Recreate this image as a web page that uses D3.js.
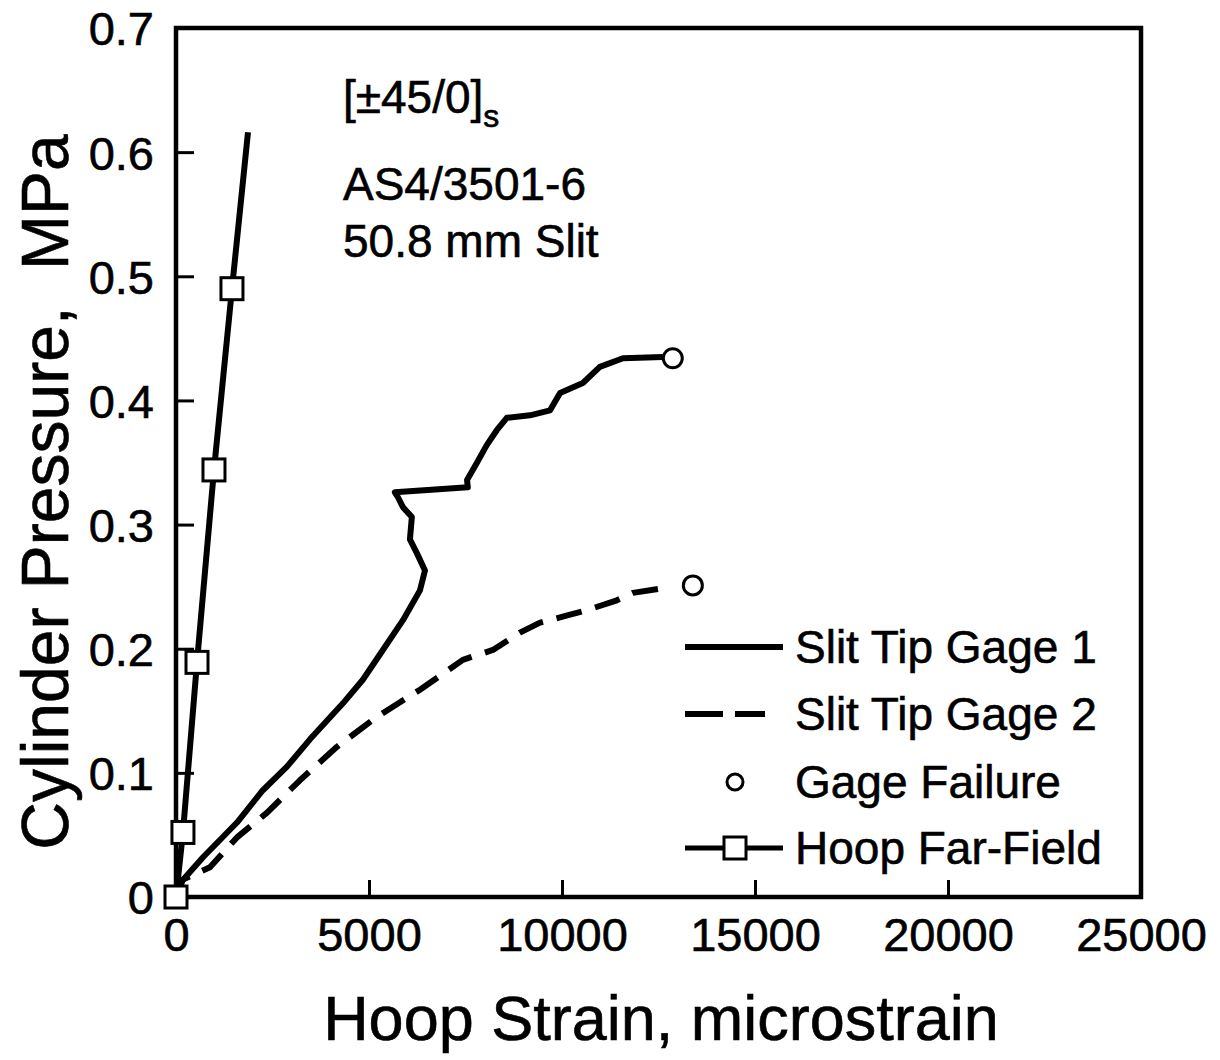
<!DOCTYPE html>
<html><head><meta charset="utf-8">
<script src="https://cdn.jsdelivr.net/npm/d3@7"></script>
<style>body{margin:0;background:#fff}svg{display:block;font-family:"Liberation Sans",Arial,sans-serif}</style>
</head><body><svg id="c" width="1220" height="1060"></svg>
<script>
const xTicks = [0, 5000, 10000, 15000, 20000, 25000];
const yTicks = [0, 0.1, 0.2, 0.3, 0.4, 0.5, 0.6, 0.7];
const yTickLabels = ["0", "0.1", "0.2", "0.3", "0.4", "0.5", "0.6", "0.7"];

// Slit Tip Gage 1 (solid) [strain, pressure]
const gage1 = [[0,0],[104,0.011],[700,0.032],[1580,0.060],[2250,0.086],[2875,0.105],[3470,0.127],[4325,0.156],[4840,0.175],[5360,0.199],[5880,0.223],[6320,0.247],[6450,0.263],[6240,0.277],[6060,0.288],[6110,0.306],[5880,0.314],[5750,0.322],[5670,0.326],[7560,0.330],[7540,0.336],[7800,0.350],[8050,0.364],[8310,0.376],[8570,0.386],[9170,0.388],[9690,0.392],[9950,0.406],[10540,0.414],[10980,0.427],[11580,0.434],[12610,0.435]];
// Slit Tip Gage 2 (dashed)
const gage2 = [[0,0],[180,0.014],[880,0.024],[1580,0.048],[2360,0.068],[3210,0.094],[4170,0.121],[5200,0.145],[6320,0.167],[7430,0.191],[8210,0.199],[8910,0.213],[9430,0.221],[10160,0.227],[10640,0.231],[11420,0.239],[11840,0.245],[12660,0.249]];
// Gage failure points
const failures = [[12870,0.434],[13390,0.251]];
// Hoop Far-Field line and its square markers
const farField = [[0,0],[180,0.052],[544,0.189],[984,0.344],[1450,0.49],[1865,0.616]];
const farFieldMarkers = [[0,0],[180,0.052],[544,0.189],[984,0.344],[1450,0.49]];

const legendLabels = ["Slit Tip Gage 1","Slit Tip Gage 2","Gage Failure","Hoop Far-Field"];
const annotLines = ["AS4/3501-6","50.8 mm Slit"];

const svg = d3.select("#c");
const L=176,R=1141,T=28,B=897;
const x = d3.scaleLinear().domain([0,25000]).range([L,R]);
const y = d3.scaleLinear().domain([0,0.7]).range([B,T]);

// axes (ticks inward)
const xAxis = svg.append("g").attr("transform",`translate(0,${B})`)
  .call(d3.axisBottom(x).tickValues(xTicks).tickSize(-17).tickPadding(24).tickFormat(d=>String(d)));
const yAxis = svg.append("g").attr("transform",`translate(${L},0)`)
  .call(d3.axisLeft(y).tickValues(yTicks).tickSize(-18).tickPadding(22).tickFormat((d,i)=>yTickLabels[i]));
[xAxis,yAxis].forEach(g=>{
  g.select(".domain").remove();
  g.selectAll(".tick line").attr("stroke","#000").attr("stroke-width",3);
  g.selectAll(".tick text").attr("fill","#000").attr("font-size",47).attr("stroke","#000").attr("stroke-width",0.6)
    .attr("font-family","Liberation Sans, Arial, sans-serif");
});
xAxis.selectAll(".tick text").attr("dy","0.71em").attr("y",21);
yAxis.selectAll(".tick text").attr("dy","0.36em").attr("x",-22);

// frame
svg.append("rect").attr("x",L).attr("y",T).attr("width",R-L).attr("height",B-T)
  .attr("fill","none").attr("stroke","#000").attr("stroke-width",4.5);

const line = d3.line().x(d=>x(d[0])).y(d=>y(d[1])).curve(d3.curveLinear);

svg.append("path").datum(gage2).attr("d",line).attr("fill","none").attr("stroke","#000")
  .attr("stroke-width",6).attr("stroke-dasharray","26,14").attr("stroke-linejoin","round");
svg.append("path").datum(gage1).attr("d",line).attr("fill","none").attr("stroke","#000")
  .attr("stroke-width",6).attr("stroke-linejoin","round");
svg.append("path").datum(farField).attr("d",line).attr("fill","none").attr("stroke","#000")
  .attr("stroke-width",6);

svg.selectAll(".fail").data(failures).enter().append("circle")
  .attr("cx",d=>x(d[0])).attr("cy",d=>y(d[1])).attr("r",9.5)
  .attr("fill","#fff").attr("stroke","#000").attr("stroke-width",3);
svg.selectAll(".sq").data(farFieldMarkers).enter().append("rect")
  .attr("x",d=>x(d[0])-11).attr("y",d=>y(d[1])-11).attr("width",22).attr("height",22)
  .attr("fill","#fff").attr("stroke","#000").attr("stroke-width",3);

// annotation
const ann = svg.append("g").attr("font-size",46).attr("fill","#000").attr("stroke","#000").attr("stroke-width",0.6);
const t1 = ann.append("text").attr("x",343).attr("y",113);
t1.append("tspan").text("[\u00B145/0]");
t1.append("tspan").attr("font-size",32).attr("dy",14).text("s");
annotLines.forEach((s,i)=>ann.append("text").attr("x",343).attr("y",200+i*57).text(s));

// legend
const lg = svg.append("g");
const rowY = [647, 714, 782, 848];
const lx0=685, lx1=783, tx=795;
legendLabels.forEach((s,i)=>{
  lg.append("text").attr("x",tx).attr("y",rowY[i]+16).attr("font-size",46).attr("stroke","#000").attr("stroke-width",0.6).text(s);
});
lg.append("line").attr("x1",lx0).attr("x2",lx1).attr("y1",rowY[0]).attr("y2",rowY[0]).attr("stroke","#000").attr("stroke-width",6);
lg.append("line").attr("x1",lx0).attr("x2",lx1-18).attr("y1",rowY[1]).attr("y2",rowY[1]).attr("stroke","#000").attr("stroke-width",6).attr("stroke-dasharray","38,12");
lg.append("circle").attr("cx",735).attr("cy",rowY[2]).attr("r",8).attr("fill","#fff").attr("stroke","#000").attr("stroke-width",3);
lg.append("line").attr("x1",lx0).attr("x2",lx1).attr("y1",rowY[3]).attr("y2",rowY[3]).attr("stroke","#000").attr("stroke-width",5);
lg.append("rect").attr("x",735-11).attr("y",rowY[3]-11).attr("width",22).attr("height",22).attr("fill","#fff").attr("stroke","#000").attr("stroke-width",3);

// axis titles
svg.append("text").attr("x",661).attr("y",1040).attr("text-anchor","middle").attr("font-size",63).attr("stroke","#000").attr("stroke-width",0.6).text("Hoop Strain, microstrain");
svg.append("text").attr("transform","translate(68,492) rotate(-90)").attr("text-anchor","middle").attr("font-size",66)
  .attr("stroke","#000").attr("stroke-width",0.6)
  .attr("xml:space","preserve").style("white-space","pre").text("Cylinder Pressure,  MPa");
</script></body></html>
